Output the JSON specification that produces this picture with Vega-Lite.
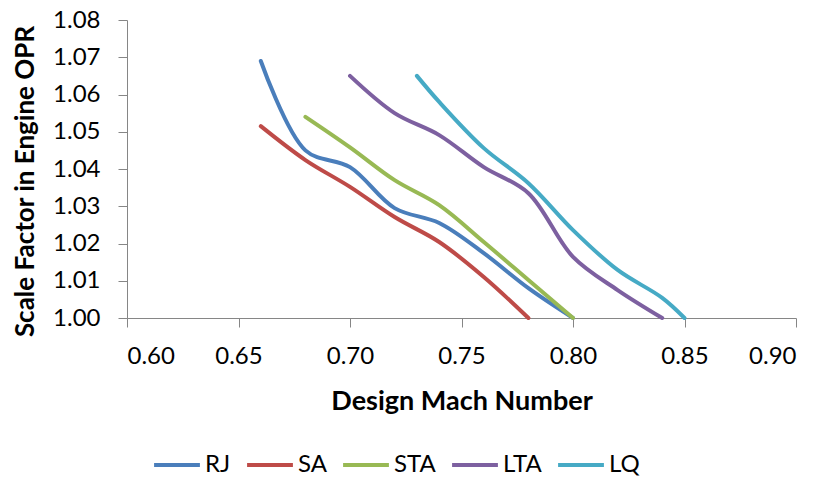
{
  "$schema": "https://vega.github.io/schema/vega-lite/v6.json",
  "width": 669,
  "height": 298,
  "autosize": {"type": "none"},
  "padding": {"left": 127, "top": 20, "right": 29, "bottom": 163},
  "background": "white",
  "config": {"view": {"stroke": null}, "font": "Lato"},
  "data": {"values": [
    {"series": "RJ", "mach": 0.66, "v": 1.069},
    {"series": "RJ", "mach": 0.68, "v": 1.045},
    {"series": "RJ", "mach": 0.70, "v": 1.0405},
    {"series": "RJ", "mach": 0.72, "v": 1.0295},
    {"series": "RJ", "mach": 0.74, "v": 1.0255},
    {"series": "RJ", "mach": 0.76, "v": 1.0174},
    {"series": "RJ", "mach": 0.78, "v": 1.008},
    {"series": "RJ", "mach": 0.80, "v": 1.000},
    {"series": "SA", "mach": 0.66, "v": 1.0515},
    {"series": "SA", "mach": 0.68, "v": 1.0424},
    {"series": "SA", "mach": 0.70, "v": 1.0352},
    {"series": "SA", "mach": 0.72, "v": 1.0271},
    {"series": "SA", "mach": 0.74, "v": 1.0204},
    {"series": "SA", "mach": 0.76, "v": 1.011},
    {"series": "SA", "mach": 0.78, "v": 1.000},
    {"series": "STA", "mach": 0.68, "v": 1.054},
    {"series": "STA", "mach": 0.70, "v": 1.0458},
    {"series": "STA", "mach": 0.72, "v": 1.037},
    {"series": "STA", "mach": 0.74, "v": 1.0303},
    {"series": "STA", "mach": 0.76, "v": 1.0204},
    {"series": "STA", "mach": 0.78, "v": 1.0102},
    {"series": "STA", "mach": 0.80, "v": 1.000},
    {"series": "LTA", "mach": 0.70, "v": 1.065},
    {"series": "LTA", "mach": 0.72, "v": 1.055},
    {"series": "LTA", "mach": 0.74, "v": 1.0491},
    {"series": "LTA", "mach": 0.76, "v": 1.0405},
    {"series": "LTA", "mach": 0.78, "v": 1.0335},
    {"series": "LTA", "mach": 0.80, "v": 1.0164},
    {"series": "LTA", "mach": 0.82, "v": 1.0075},
    {"series": "LTA", "mach": 0.84, "v": 1.000},
    {"series": "LQ", "mach": 0.73, "v": 1.065},
    {"series": "LQ", "mach": 0.74, "v": 1.058},
    {"series": "LQ", "mach": 0.76, "v": 1.0456},
    {"series": "LQ", "mach": 0.78, "v": 1.0362},
    {"series": "LQ", "mach": 0.80, "v": 1.0236},
    {"series": "LQ", "mach": 0.82, "v": 1.0129},
    {"series": "LQ", "mach": 0.84, "v": 1.0054},
    {"series": "LQ", "mach": 0.85, "v": 1.000}
  ]},
  "mark": {"type": "line", "interpolate": "catmull-rom", "strokeWidth": 4, "strokeCap": "round", "clip": false},
  "encoding": {
    "x": {
      "field": "mach", "type": "quantitative",
      "scale": {"domain": [0.6, 0.9], "nice": false, "zero": false},
      "axis": {
        "title": "Design Mach Number",
        "values": [0.6, 0.65, 0.7, 0.75, 0.8, 0.85, 0.9],
        "format": ".2f",
        "grid": false,
        "domainColor": "#868686", "tickColor": "#868686", "tickSize": 9,
        "labelFontSize": 24, "labelColor": "#000000", "labelPadding": 17,
        "titleFontSize": 27, "titleFontWeight": "bold", "titleColor": "#000000", "titlePadding": 20
      }
    },
    "y": {
      "field": "v", "type": "quantitative",
      "scale": {"domain": [1.0, 1.08], "nice": false, "zero": false},
      "axis": {
        "title": "Scale Factor in Engine OPR",
        "values": [1.0, 1.01, 1.02, 1.03, 1.04, 1.05, 1.06, 1.07, 1.08],
        "format": ".2f",
        "grid": false,
        "domainColor": "#868686", "tickColor": "#868686", "tickSize": 9,
        "labelFontSize": 24, "labelColor": "#000000", "labelPadding": 18,
        "titleFontSize": 26, "titleFontWeight": "bold", "titleColor": "#000000",
        "titleX": -102, "titleY": 161, "titleAngle": -90, "titleAlign": "center", "titleBaseline": "middle"
      }
    },
    "color": {
      "field": "series", "type": "nominal",
      "scale": {"domain": ["RJ", "SA", "STA", "LTA", "LQ"], "range": ["#4A7EBB", "#BE4B48", "#98B954", "#7D60A0", "#46AAC5"]},
      "sort": ["RJ", "SA", "STA", "LTA", "LQ"],
      "legend": {
        "title": null, "orient": "none", "direction": "horizontal",
        "legendX": 25, "legendY": 420,
        "symbolType": "stroke", "symbolSize": 2100, "symbolStrokeWidth": 4,
        "labelFontSize": 24, "labelColor": "#000000", "labelOffset": 3,
        "columnPadding": 8
      }
    }
  }
}
